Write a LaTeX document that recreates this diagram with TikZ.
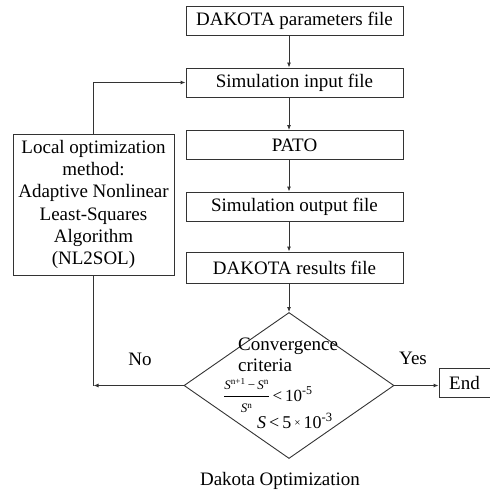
\documentclass[tikz,border=0pt]{standalone}
\usepackage{amsmath}
\usepackage{fontspec}
\setmainfont{Liberation Serif}
\usetikzlibrary{shapes.geometric,arrows.meta}
\newcommand{\fracsz}{\fontsize{13}{14}\selectfont}
\begin{document}
\begin{tikzpicture}[x=1pt,y=-1pt,
  every node/.style={font=\fontsize{19}{22.2}\selectfont, inner sep=0pt},
  box/.style={draw=black!80, line width=0.9pt, minimum width=217pt, minimum height=29pt},
  conn/.style={draw=black!80, line width=0.9pt},
  arr/.style={conn, -{Latex[length=5pt,width=4pt]}}]
\useasboundingbox (0,0) rectangle (489,494);
% main column
\node[box] (par) at (294.5,20.5) {DAKOTA parameters file};
\node[box] (sin) at (294.5,82.5) {Simulation input file};
\node[box] (pato) at (294.5,145) {PATO};
\node[box] (sout) at (294.5,206.5) {Simulation output file};
\node[box, minimum height=31pt] (res) at (294.5,267.5) {DAKOTA results file};
% decision
\node[draw=black!80, line width=0.9pt, diamond, minimum width=210pt, minimum height=146pt] (dec) at (289,385.5) {};
\node[anchor=base west] (conv) at (238,350) {Convergence};
\node[anchor=base west] (crit) at (238,371) {criteria};
\node[anchor=base west, font=\fontsize{16}{18}\selectfont] (frac) at (223,401)
  {$\genfrac{}{}{0.7pt}{0}{\text{\fracsz\itshape S\textsuperscript{\upshape n+1}\,\upshape −\,\itshape S\textsuperscript{\upshape n}}}{\text{\fracsz\itshape S\textsuperscript{\upshape n}}}$\,{\fontsize{17}{19}\selectfont<\,10\textsuperscript{-5}}};
\node[anchor=base west, font=\fontsize{18}{20}\selectfont] (crit2) at (257,428)
  {\textit{S}\,<\,5\,{\fontsize{11}{12}\selectfont\raisebox{2pt}{×}}\,10\textsuperscript{-3}};
% end
\node[draw=black!80, line width=0.9pt, minimum width=51pt, minimum height=29pt] (end) at (464.5,383) {End};
% left box
\node[draw=black!80, line width=0.9pt, minimum width=161pt, minimum height=141pt, align=center] (lb) at (93.5,204.5)
  {Local optimization\\method:\\Adaptive Nonlinear\\Least-Squares\\Algorithm\\(NL2SOL)};
% labels
\node[anchor=base] (no) at (140,365) {No};
\node[anchor=base] (yes) at (413,364) {Yes};
\node[anchor=base] (dk) at (280,485) {Dakota Optimization};
% connectors
\draw[arr] (par.south -| dec.north) -- (sin.north -| dec.north);
\draw[arr] (sin.south -| dec.north) -- (pato.north -| dec.north);
\draw[arr] (pato.south -| dec.north) -- (sout.north -| dec.north);
\draw[arr] (sout.south -| dec.north) -- (res.north -| dec.north);
\draw[arr] (res.south -| dec.north) -- (dec.north);
\draw[arr] (dec.east) -- (dec.east -| end.west);
\draw[arr] (dec.west) -- (dec.west -| lb.south);
\draw[conn] (lb.south) -- (dec.west -| lb.south);
\draw[arr] (lb.north) |- (sin.west);
\end{tikzpicture}
\end{document}
